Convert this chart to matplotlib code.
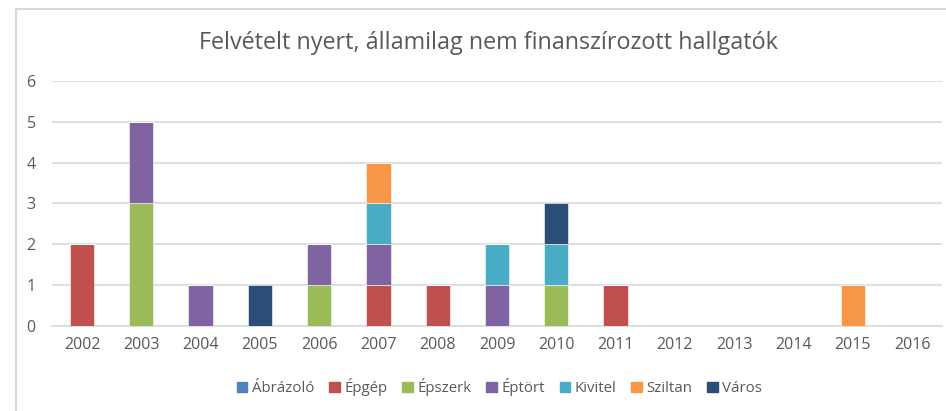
import matplotlib.pyplot as plt
import numpy as np
from matplotlib.lines import Line2D

years = ['2002', '2003', '2004', '2005', '2006', '2007', '2008', '2009',
         '2010', '2011', '2012', '2013', '2014', '2015', '2016']
series = ['Ábrázoló', 'Épgép', 'Épszerk', 'Éptört', 'Kivitel', 'Sziltan', 'Város']
abrazolo = [0, 0, 0, 0, 0, 0, 0, 0, 0, 0, 0, 0, 0, 0, 0]
epgep = [2, 0, 0, 0, 0, 1, 1, 0, 0, 1, 0, 0, 0, 0, 0]
epszerk = [0, 3, 0, 0, 1, 0, 0, 0, 1, 0, 0, 0, 0, 0, 0]
eptort = [0, 2, 1, 0, 1, 1, 0, 1, 0, 0, 0, 0, 0, 0, 0]
kivitel = [0, 0, 0, 0, 0, 1, 0, 1, 1, 0, 0, 0, 0, 0, 0]
sziltan = [0, 0, 0, 0, 0, 1, 0, 0, 0, 0, 0, 0, 0, 1, 0]
varos = [0, 0, 0, 1, 0, 0, 0, 0, 1, 0, 0, 0, 0, 0, 0]
colors = ['#4F81BD', '#C0504D', '#9BBB59', '#8064A2', '#4BACC6', '#F79646', '#2C4D75']

plt.rcParams['font.family'] = ['Open Sans', 'DejaVu Sans']
gray = '#595959'

fig = plt.figure(figsize=(9.46, 4.11), dpi=100)
ax = fig.add_axes([0.0554, 0.2068, 0.94, 0.5962])

x = np.arange(len(years))
bottom = np.zeros(len(years))
data = [abrazolo, epgep, epszerk, eptort, kivitel, sziltan, varos]
for name, vals, c in zip(series, data, colors):
    vals = np.array(vals, dtype=float)
    ax.bar(x, vals, 0.41, bottom=bottom, color=c, label=name,
           edgecolor='white', linewidth=0.4, zorder=3)
    bottom += vals

ax.set_xlim(-0.5, len(years) - 0.5)
ax.set_ylim(0, 6)
ax.set_yticks(range(7))
ax.set_xticks(x)
ax.set_xticklabels(years)
ax.yaxis.grid(True, color='#D9D9D9', linewidth=1.2, zorder=0)
ax.tick_params(length=0, colors=gray, labelsize=11.5)
ax.tick_params(axis='y', pad=12)
ax.tick_params(axis='x', pad=8)
for s in ['top', 'right', 'left']:
    ax.spines[s].set_visible(False)
ax.spines['bottom'].set_color('#D9D9D9')
ax.spines['bottom'].set_linewidth(1.2)

fig.text(0.516, 0.895, 'Felvételt nyert, államilag nem finanszírozott hallgatók',
         ha='center', va='center', fontsize=16.8, color=gray)

handles = [plt.Rectangle((0, 0), 1, 1, color=c) for c in colors]
fig.legend(handles, series, loc='center', bbox_to_anchor=(0.528, 0.058), ncol=7,
           frameon=False, fontsize=10.8, labelcolor=gray, handlelength=0.7,
           handleheight=0.7, handletextpad=0.3, columnspacing=1.0)

# chart border
fig.add_artist(Line2D([15.5 / 946, 15.5 / 946], [0, 1 - 9 / 411], color='#D9D9D9', lw=1.5))
fig.add_artist(Line2D([15.5 / 946, 1], [1 - 9 / 411, 1 - 9 / 411], color='#D9D9D9', lw=1.5))

fig.savefig('out.png', dpi=100)
